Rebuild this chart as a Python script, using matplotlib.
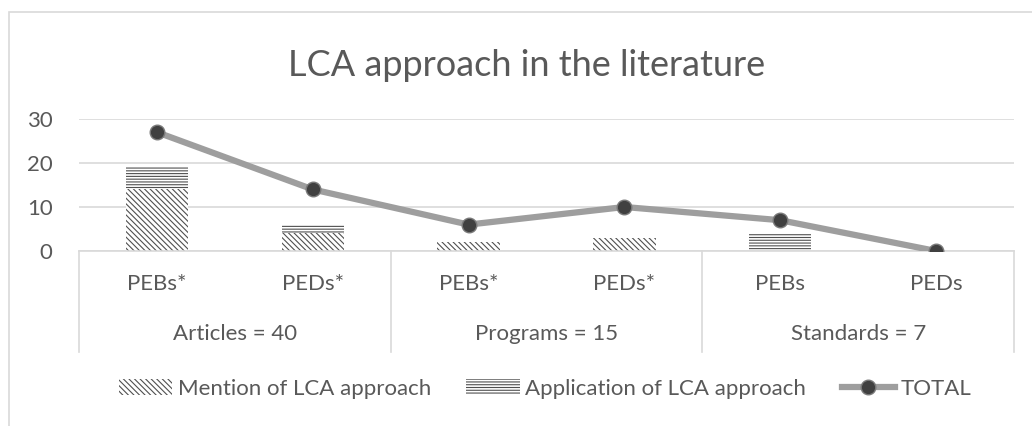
import matplotlib
matplotlib.use("Agg")
import matplotlib.pyplot as plt
import matplotlib.transforms as mtransforms
from matplotlib.patches import Rectangle, Patch
from matplotlib.lines import Line2D

# ---------------- data ----------------
groups = ["Articles = 40", "Programs = 15", "Standards = 7"]
subcats = ["PEBs*", "PEDs*", "PEBs*", "PEDs*", "PEBs", "PEDs"]
mention = [14, 4, 2, 3, 0, 0]
application = [5, 2, 0, 0, 4, 0]
total = [27, 14, 6, 10, 7, 0]

plt.rcParams["font.family"] = ["Lato", "DejaVu Sans"]
plt.rcParams["hatch.linewidth"] = 0.8
text_col = "#595959"
grid_col = "#D9D9D9"
hatch_col = "#505050"
fs = 16

fig = plt.figure(figsize=(10.32, 4.26), dpi=100)

# outer chart frame (partly cropped)
fig.patches.append(Rectangle((9 / 1032, -0.1), 1.2, 1 - 12 / 426 + 0.1,
                             transform=fig.transFigure, fill=False,
                             edgecolor=grid_col, linewidth=1.2))

ax = fig.add_axes([79 / 1032, 1 - 251 / 426, 935 / 1032, 132 / 426])

x = list(range(len(subcats)))
ax.bar(x, mention, width=0.4, color="white", edgecolor=hatch_col,
       hatch="\\\\\\\\\\\\", linewidth=0, zorder=2)
ax.bar(x, application, width=0.4, bottom=mention, color="white",
       edgecolor=hatch_col, hatch="------", linewidth=0, zorder=2)
ax.plot(x, total, color="#9E9E9E", linewidth=4.5, marker="o", markersize=10.5,
        markerfacecolor="#404040", markeredgecolor="#7A7A7A",
        markeredgewidth=1, zorder=3)

ax.set_xlim(-0.5, len(subcats) - 0.5)
ax.set_ylim(0, 30)
ax.set_yticks([0, 10, 20, 30])
ax.tick_params(axis="y", length=0, labelsize=fs, labelcolor=text_col, pad=19)
ax.set_xticks([])
ax.yaxis.grid(True, color=grid_col, linewidth=1.2, zorder=0)
ax.set_axisbelow(True)
for s in ["top", "right", "left"]:
    ax.spines[s].set_visible(False)
ax.spines["bottom"].set_color(grid_col)
ax.spines["bottom"].set_linewidth(1.2)

# multi-level category axis
trans = mtransforms.blended_transform_factory(ax.transData, ax.transAxes)
for i, lab in enumerate(subcats):
    ax.text(i, -(284 - 251) / 132, lab, transform=trans, ha="center",
            va="center", fontsize=fs, color=text_col)
for g, lab in enumerate(groups):
    ax.text(2 * g + 0.5, -(334 - 251) / 132, lab, transform=trans,
            ha="center", va="center", fontsize=fs, color=text_col)
for b in [-0.5, 1.5, 3.5, 5.5]:
    ax.plot([b, b], [0, -(352 - 251) / 132], transform=trans, color=grid_col,
            linewidth=1.2, clip_on=False)

fig.text(527 / 1032, 1 - 65 / 426, "LCA approach in the literature",
         ha="center", va="center", fontsize=26, color=text_col)

handles = [
    Patch(facecolor="white", edgecolor=hatch_col, hatch="\\\\\\\\\\\\", linewidth=0),
    Patch(facecolor="white", edgecolor=hatch_col, hatch="------", linewidth=0),
    Line2D([0], [0], color="#9E9E9E", linewidth=4.5, marker="o", markersize=10.5,
           markerfacecolor="#404040", markeredgecolor="#7A7A7A"),
]
fig.legend(handles, ["Mention of LCA approach", "Application of LCA approach", "TOTAL"],
           loc="center", bbox_to_anchor=(545 / 1032, 1 - 389 / 426), ncol=3,
           frameon=False, fontsize=fs, labelcolor=text_col, handlelength=2.4,
           handleheight=0.7, handletextpad=0.25, columnspacing=1.6)

fig.savefig("out.png", dpi=100)
